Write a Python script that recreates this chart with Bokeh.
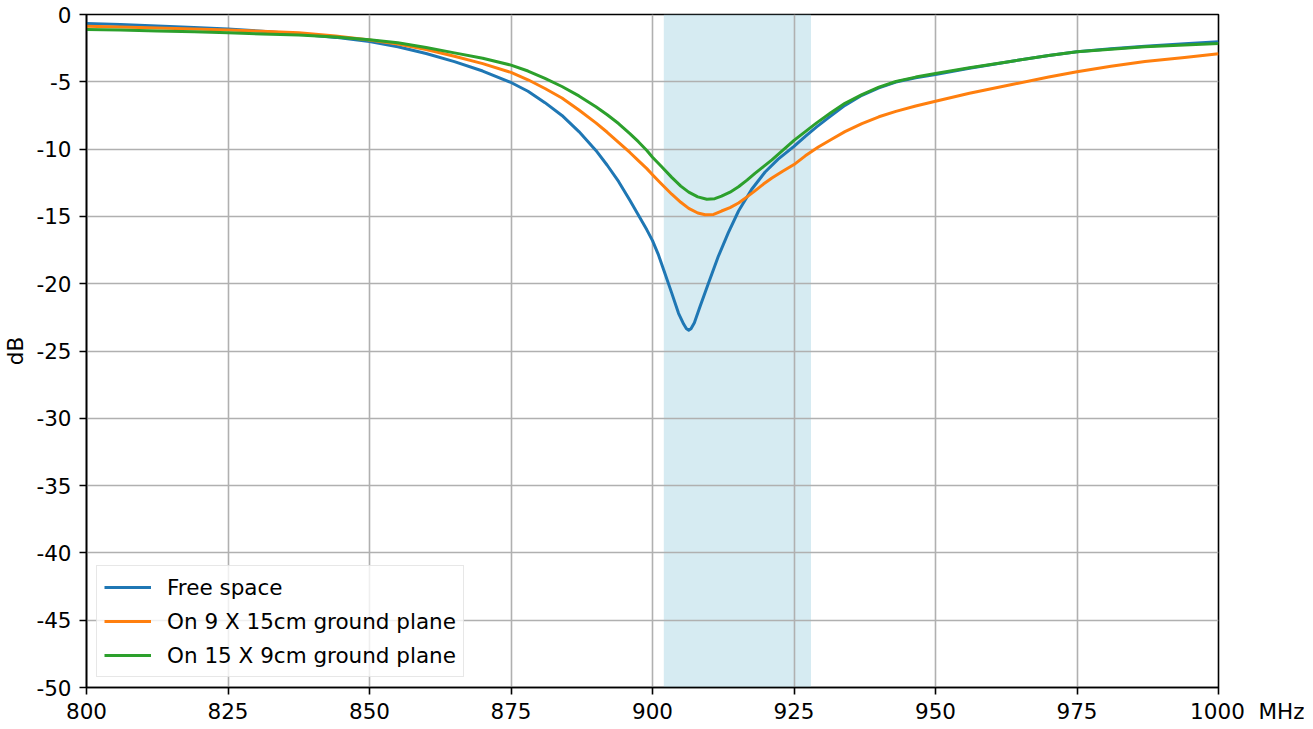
from bokeh.plotting import figure
from bokeh.models import Legend, LegendItem, BoxAnnotation, FixedTicker
from bokeh.embed import file_html
from bokeh.resources import INLINE

# Frequencies (MHz) and return loss (dB)
free_f = [800, 806, 812.5, 819, 825, 831, 837.5, 844, 850, 855, 860, 865, 870, 875, 878,
          881, 884, 887, 890, 892, 894, 896, 897.5, 899, 900, 901, 902, 903.4, 904.6, 905.5,
          906, 906.4, 906.8, 907.4, 908.4, 909.9, 911.6, 913.4, 915.2, 917.5, 919.9, 922.2,
          925, 927, 929, 931, 934, 937, 940, 943, 946.5, 950, 956, 963.5, 970, 975, 981,
          987, 994, 1000]
free_db = [-0.67, -0.75, -0.85, -0.96, -1.08, -1.24, -1.44, -1.7, -2.0, -2.4, -2.9, -3.5,
           -4.2, -5.05, -5.7, -6.55, -7.5, -8.7, -10.1, -11.2, -12.4, -13.8, -14.9, -16.0,
           -16.8, -17.8, -19.0, -20.7, -22.2, -23.0, -23.35, -23.45, -23.35, -22.9, -21.7,
           -19.95, -18.0, -16.2, -14.6, -13.0, -11.7, -10.75, -9.8, -9.05, -8.35, -7.7,
           -6.75, -6.0, -5.45, -5.02, -4.7, -4.45, -4.0, -3.47, -3.05, -2.77, -2.55, -2.35,
           -2.18, -2.03]

gp1_f = [800, 806, 812.5, 819, 825, 831, 837.5, 844, 850, 855, 860, 865, 870, 875, 878,
         881, 884, 887, 890, 892, 894, 896, 897.5, 899, 900, 901.5, 903.4, 905, 906.4, 908,
         909.3, 910.8, 912.2, 913.7, 915.2, 916.7, 918.1, 919.6, 921.1, 923, 925, 927,
         929.3, 931.5, 934, 937, 940, 943, 946.5, 950, 956, 963.5, 970, 975, 981, 987, 994,
         1000]
gp1_db = [-0.87, -0.93, -1.0, -1.07, -1.15, -1.24, -1.36, -1.6, -1.9, -2.2, -2.6, -3.1,
          -3.65, -4.3, -4.85, -5.5, -6.2, -7.1, -8.05, -8.75, -9.5, -10.25, -10.85, -11.45,
          -11.9, -12.55, -13.35, -13.95, -14.4, -14.75, -14.88, -14.85, -14.6, -14.35,
          -14.0, -13.55, -13.1, -12.6, -12.15, -11.65, -11.15, -10.5, -9.85, -9.3, -8.7,
          -8.1, -7.6, -7.2, -6.8, -6.45, -5.85, -5.2, -4.65, -4.25, -3.85, -3.5, -3.2, -2.92]

gp2_f = [800, 806, 812.5, 819, 825, 831, 837.5, 844, 850, 855, 860, 865, 870, 875, 878,
         881, 884, 887, 890, 892, 894, 896, 897.5, 899, 900, 901.5, 903.4, 905, 906.4, 908,
         909.6, 911, 912.2, 913.7, 915.2, 916.7, 918.1, 919.6, 921.1, 923, 925, 927, 929,
         931.5, 934, 937, 940, 943, 946.5, 950, 956, 963.5, 970, 975, 981, 987, 994, 1000]
gp2_db = [-1.11, -1.16, -1.22, -1.29, -1.36, -1.44, -1.53, -1.68, -1.88, -2.1, -2.45,
          -2.85, -3.25, -3.76, -4.2, -4.75, -5.35, -6.05, -6.85, -7.45, -8.1, -8.85, -9.45,
          -10.1, -10.6, -11.25, -12.1, -12.75, -13.2, -13.55, -13.72, -13.68, -13.5, -13.2,
          -12.8, -12.3, -11.8, -11.3, -10.8, -10.1, -9.35, -8.7, -8.05, -7.3, -6.6, -5.95,
          -5.4, -4.98, -4.65, -4.38, -3.95, -3.47, -3.05, -2.77, -2.58, -2.4, -2.26, -2.15]

series_names = ["Free space", "On 9 X 15cm ground plane", "On 15 X 9cm ground plane"]
series_colors = ["#1f77b4", "#ff7f0e", "#2ca02c"]

band_start, band_end = 902, 928
x_ticks = [800, 825, 850, 875, 900, 925, 950, 975, 1000]
y_ticks = [-50, -45, -40, -35, -30, -25, -20, -15, -10, -5, 0]
x_unit = "MHz"
y_label = "dB"

FONT = "DejaVu Sans"
FS = "21.5px"
NB = "\u00a0"

p = figure(frame_width=1132, frame_height=673, x_range=(800, 1000), y_range=(-50, 0),
           output_backend="svg", toolbar_location=None,
           min_border_left=83, min_border_top=14, min_border_bottom=38, min_border_right=86)

p.background_fill_color = "white"
p.border_fill_color = "white"
p.outline_line_color = "black"
p.outline_line_width = 1.6

band = BoxAnnotation(left=band_start, right=band_end, fill_color="lightblue",
                     fill_alpha=0.5, line_alpha=0, level="image")
p.add_layout(band)

for ax in (p.xaxis, p.yaxis):
    ax.axis_line_color = "black"
    ax.axis_line_width = 1.6
    ax.major_tick_line_color = "black"
    ax.major_tick_line_width = 1.6
    ax.major_tick_out = 7
    ax.major_tick_in = 0
    ax.minor_tick_line_color = None
    ax.major_label_text_font = FONT
    ax.major_label_text_font_size = FS
    ax.major_label_text_color = "black"

p.xaxis.ticker = FixedTicker(ticks=x_ticks)
p.yaxis.ticker = FixedTicker(ticks=y_ticks)
p.yaxis.major_label_overrides = {t: str(t) for t in y_ticks}
# the unit sits right of the last x tick label, as in the reference
unit_pad = NB * 9
p.xaxis.major_label_overrides = {x_ticks[-1]: unit_pad + str(x_ticks[-1]) + NB * 2 + x_unit}
p.xaxis.major_label_standoff = 4
p.yaxis.major_label_standoff = 8

p.yaxis.axis_label = y_label
p.yaxis.axis_label_text_font = FONT
p.yaxis.axis_label_text_font_size = FS
p.yaxis.axis_label_text_font_style = "normal"
p.yaxis.axis_label_text_color = "black"
p.yaxis.axis_label_standoff = 5

for g in (p.xgrid, p.ygrid):
    g.grid_line_color = "#b0b0b0"
    g.grid_line_width = 1.6

renderers = []
for f, d, c in zip([free_f, gp1_f, gp2_f], [free_db, gp1_db, gp2_db], series_colors):
    r = p.line(f, d, line_color=c, line_width=3, line_join="round")
    renderers.append(r)

legend = Legend(items=[LegendItem(label=n, renderers=[r]) for n, r in zip(series_names, renderers)],
                location="bottom_left")
legend.label_text_font = FONT
legend.label_text_font_size = FS
legend.label_text_color = "black"
legend.glyph_width = 47
legend.glyph_height = 28
legend.label_height = 28
legend.spacing = 6
legend.padding = 7
legend.margin = 10
legend.label_standoff = 16
legend.border_line_color = "#d0d0d0"
legend.border_line_width = 1.5
legend.background_fill_color = "white"
legend.background_fill_alpha = 0.8
p.add_layout(legend, "center")

open("out.html", "w").write(file_html(p, INLINE))
